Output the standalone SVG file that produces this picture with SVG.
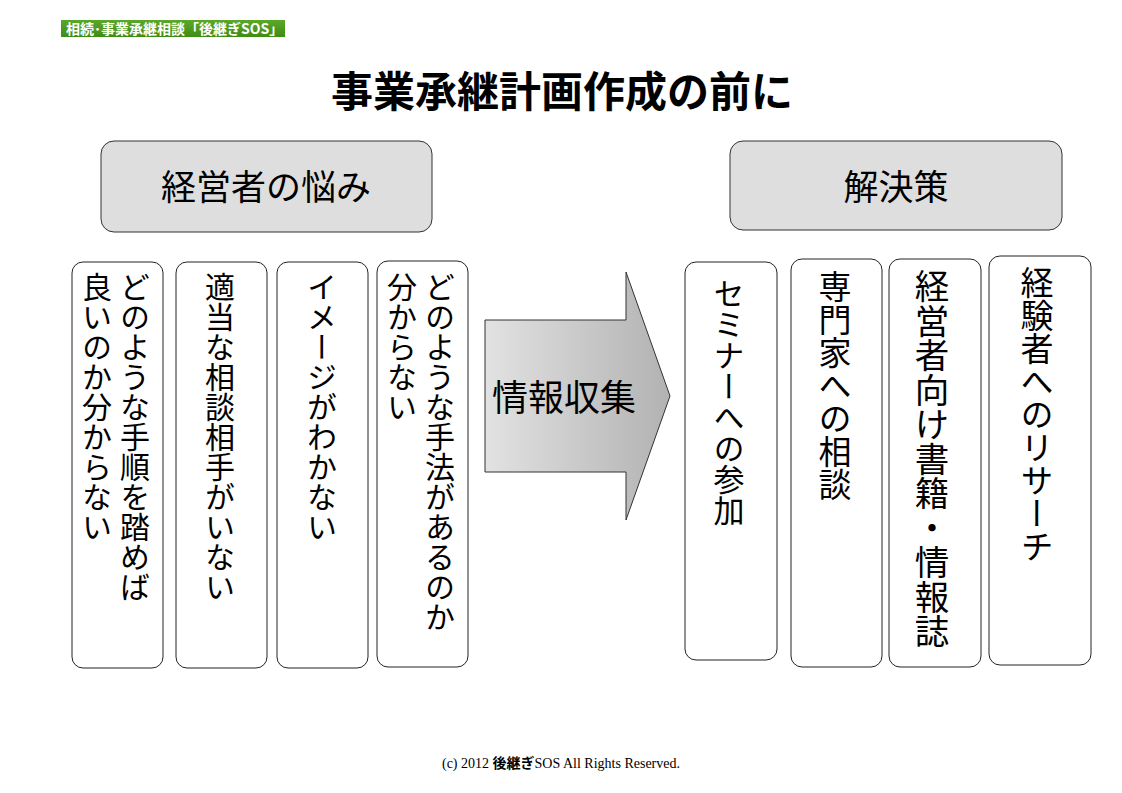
<svg xmlns="http://www.w3.org/2000/svg" width="1122" height="793" viewBox="0 0 1122 793">
<defs>
<linearGradient id="arrowGrad" x1="0" y1="0" x2="1" y2="0">
<stop offset="0" stop-color="#e2e2e2"/>
<stop offset="1" stop-color="#b2b2b2"/>
</linearGradient>
<linearGradient id="badgeGrad" x1="0" y1="0" x2="0" y2="1">
<stop offset="0" stop-color="#5aa82a"/>
<stop offset="1" stop-color="#3f8c14"/>
</linearGradient>
</defs>
<style>
.jp{font-family:"Noto Sans CJK JP","Noto Sans",sans-serif;fill:#000}
.hdr{fill:#dedede;stroke:#333;stroke-width:1}
.card{fill:#fff;stroke:#222;stroke-width:1}
.vl{writing-mode:vertical-rl;font-size:30px}
.vr{writing-mode:vertical-rl;font-size:33px}
</style>
<rect width="1122" height="793" fill="#fff"/>
<g id="badge">
<rect x="61" y="20" width="224" height="17" fill="url(#badgeGrad)"/>
<text x="66" y="33.5" class="jp" style="font-size:14px;font-weight:bold;fill:#fff">相続･事業承継相談「後継ぎSOS」</text>
</g>
<g id="title">
<text x="562" y="107" text-anchor="middle" class="jp" style="font-size:42px;font-weight:bold">事業承継計画作成の前に</text>
</g>
<g id="node-nayami">
<rect x="101" y="141" width="331" height="91" rx="13" class="hdr"/>
<text x="266" y="200" text-anchor="middle" class="jp" style="font-size:35px">経営者の悩み</text>
</g>
<g id="node-kaiketsu">
<rect x="730" y="141" width="332" height="89" rx="13" class="hdr"/>
<text x="896" y="200" text-anchor="middle" class="jp" style="font-size:35px">解決策</text>
</g>
<g id="node-l1">
<rect x="72" y="262" width="91" height="406" rx="11" class="card"/>
<text x="135" y="272" class="jp vl">どのような手順を踏めば</text>
<text x="97" y="272" class="jp vl">良いのか分からない</text>
</g>
<g id="node-l2">
<rect x="176" y="262" width="91" height="406" rx="11" class="card"/>
<text x="220" y="272" class="jp vl">適当な相談相手がいない</text>
</g>
<g id="node-l3">
<rect x="277" y="262" width="91" height="406" rx="11" class="card"/>
<text x="322" y="272" class="jp vl">イメージがわかない</text>
</g>
<g id="node-l4">
<rect x="377" y="261" width="91" height="406" rx="11" class="card"/>
<text x="440" y="272" class="jp vl">どのような手法があるのか</text>
<text x="402" y="272" class="jp vl">分からない</text>
</g>
<g id="connectors">
<g id="arrow-joho">
<path d="M485,320 L626,320 L626,272 L670,396 L626,520 L626,472 L485,472 Z" fill="url(#arrowGrad)" stroke="#333" stroke-width="1"/>
<text x="564" y="411" text-anchor="middle" class="jp" style="font-size:36px">情報収集</text>
</g>
</g>
<g id="node-r1">
<rect x="685" y="262" width="92" height="398" rx="11" class="card"/>
<text x="729" y="278" class="jp vr" style="font-size:31px">セミナーへの参加</text>
</g>
<g id="node-r2">
<rect x="791" y="259" width="91" height="408" rx="11" class="card"/>
<text x="835" y="270" class="jp vr">専門家への相談</text>
</g>
<g id="node-r3">
<rect x="889" y="259" width="92" height="408" rx="11" class="card"/>
<text x="932" y="269" class="jp vr" style="font-size:34.5px">経営者向け書籍・情報誌</text>
</g>
<g id="node-r4">
<rect x="989" y="256" width="102" height="409" rx="11" class="card"/>
<text x="1037" y="266" class="jp vr">経験者へのリサーチ</text>
</g>
<g id="footer">
<text x="561" y="768" text-anchor="middle" style="font-family:'Liberation Serif','Noto Serif CJK JP','Noto Sans CJK JP',serif;font-size:14px;fill:#000">(c) 2012 <tspan style="font-family:'Noto Sans CJK JP',sans-serif;font-weight:bold">後継ぎ</tspan>SOS All Rights Reserved.</text>
</g>
</svg>
